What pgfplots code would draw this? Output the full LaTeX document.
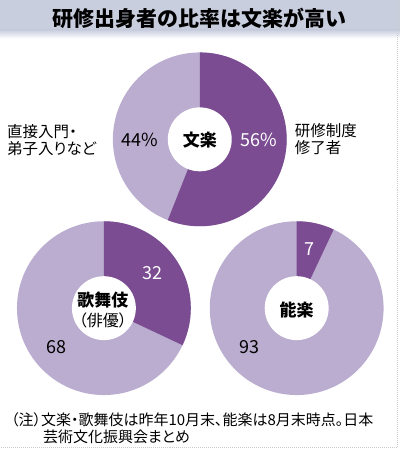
\documentclass[border=0pt]{standalone}
\usepackage{pgfplots}
\pgfplotsset{compat=1.18}
\usepackage{pgfplotstable}
\usepackage{fontspec}
\setmainfont{Noto Sans CJK JP}
\newfontfamily\jpp{Noto Sans CJK JP}[RawFeature=+palt]

\definecolor{darkpurple}{RGB}{123,76,146}
\definecolor{lightpurple}{RGB}{187,173,207}
\definecolor{titleband}{RGB}{201,206,223}

% share of each group (dark = 研修制度修了者)
\pgfplotstableread{
group dark light
bunraku 56 44
kabuki 32 68
noh 7 93
}\pies

\pgfplotstablegetelem{0}{dark}\of\pies \let\vA\pgfplotsretval
\pgfplotstablegetelem{1}{dark}\of\pies \let\vB\pgfplotsretval
\pgfplotstablegetelem{2}{dark}\of\pies \let\vC\pgfplotsretval
\pgfmathsetmacro\eA{90-3.6*\vA}
\pgfmathsetmacro\eB{90-3.6*\vB}
\pgfmathsetmacro\eC{90-3.6*\vC}

% donut: centre x, centre y, end angle of dark part
\newcommand\donut[3]{%
  \fill[lightpurple] (axis cs:#1,#2) circle[radius=87bp];
  \fill[darkpurple] (axis cs:#1,#2) -- ++(90:87bp) arc[start angle=90, end angle=#3, radius=87bp] -- cycle;
  \fill[white] (axis cs:#1,#2) circle[radius=32bp];
}
\newcommand\fs[1]{\fontsize{#1bp}{#1bp}\selectfont}

\begin{document}
\begin{tikzpicture}
\begin{axis}[x=1bp, y=1bp, xmin=0, xmax=400, ymin=0, ymax=451,
  hide axis, clip=false]
  \path (axis cs:0,0) rectangle (axis cs:400,451);
  % title band
  \fill[titleband] (axis cs:0,421) rectangle (axis cs:400,451);
  \shade[top color=titleband, bottom color=white] (axis cs:0,413) rectangle (axis cs:400,421.5);
  \node[font=\fs{21}\bfseries] at (axis cs:200,433) {研修出身者の比率は文楽が高い};
  % frame
  \draw[black!20, densely dotted, line width=1bp] (axis cs:1,4) -- (axis cs:398,4) -- (axis cs:398,451);

  \donut{200}{312}{\eA}
  \donut{104}{143}{\eB}
  \donut{297}{143}{\eC}

  % 文楽
  \node[font=\fs{17}\bfseries] at (axis cs:200,311) {文楽};
  \node[font=\fs{18}] at (axis cs:140,311) {44\%};
  \node[font=\fs{18}, text=white] at (axis cs:259,311) {56\%};
  \node[font=\jpp\fs{15.5}, align=left, anchor=west, inner sep=0pt] at (axis cs:7,311) {直接入門・\\[1.5bp]弟子入りなど};
  \node[font=\jpp\fs{15.5}, align=left, anchor=west, inner sep=0pt] at (axis cs:295,312) {研修制度\\[1.5bp]修了者};

  % 歌舞伎
  \node[font=\fs{17}\bfseries] at (axis cs:103,151) {歌舞伎};
  \node[font=\jpp\fs{16}] at (axis cs:103,131) {（俳優）};
  \node[font=\fs{18}, text=white] at (axis cs:153,178) {32};
  \node[font=\fs{18}] at (axis cs:57,104) {68};

  % 能楽
  \node[font=\fs{17}\bfseries] at (axis cs:297,141) {能楽};
  \node[font=\fs{18}, text=white] at (axis cs:310,202) {7};
  \node[font=\fs{18}] at (axis cs:250,104) {93};

  % note
  \node[font=\jpp\fs{15}, anchor=west, inner sep=0pt] at (axis cs:11,31) {（注）文楽・歌舞伎は昨年10月末、能楽は8月末時点。日本};
  \node[font=\jpp\fs{15}, anchor=west, inner sep=0pt] at (axis cs:43,14) {芸術文化振興会まとめ};
\end{axis}
\end{tikzpicture}
\end{document}
